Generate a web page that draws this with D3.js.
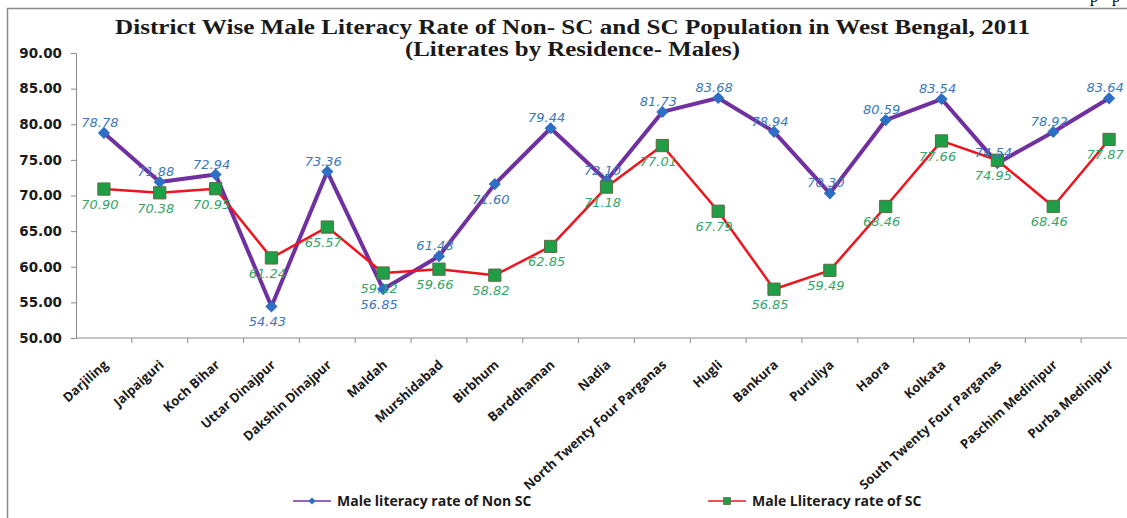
<!DOCTYPE html>
<html>
<head>
<meta charset="utf-8">
<script src="https://cdn.jsdelivr.net/npm/d3@7"></script>
<style>
  html, body { margin: 0; padding: 0; background: #fff; }
  svg { display: block; }
</style>
</head>
<body>
<svg id="chart" width="1127" height="518"></svg>
<script>
var districts = ['Darjiling', 'Jalpaiguri', 'Koch Bihar', 'Uttar Dinajpur', 'Dakshin Dinajpur',
  'Maldah', 'Murshidabad', 'Birbhum', 'Barddhaman', 'Nadia', 'North Twenty Four Parganas',
  'Hugli', 'Bankura', 'Puruliya', 'Haora', 'Kolkata', 'South Twenty Four Parganas',
  'Paschim Medinipur', 'Purba Medinipur'];

var nonScRate = [78.78, 71.88, 72.94, 54.43, 73.36, 56.85, 61.48, 71.60, 79.44, 72.10,
  81.73, 83.68, 78.94, 70.30, 80.59, 83.54, 74.54, 78.92, 83.64];

var scRate = [70.90, 70.38, 70.95, 61.24, 65.57, 59.12, 59.66, 58.82, 62.85, 71.18,
  77.01, 67.79, 56.85, 59.49, 68.46, 77.66, 74.95, 68.46, 77.87];

var yTicks = [50, 55, 60, 65, 70, 75, 80, 85, 90];

var seriesNames = ['Male literacy rate of Non SC', 'Male Lliteracy rate of SC'];

// Non SC labels that sit under their marker instead of above it
var nonScBelow = ['Uttar Dinajpur', 'Maldah', 'Birbhum'];

var svg = d3.select('#chart');
var fmt = d3.format('.2f');

var x = d3.scaleBand().domain(districts).range([76, 1137]);
var y = d3.scaleLinear().domain([50, 90]).range([338, 53]);
function cx(d) { return x(d) + x.bandwidth() / 2; }

// outer frame of the chart (runs off the right and bottom of the picture)
svg.append('rect')
  .attr('x', 7.5).attr('y', 8.5)
  .attr('width', 1200).attr('height', 560)
  .attr('fill', 'none').attr('stroke', '#8a8a8a').attr('stroke-width', 1.5);

// bits of text from the page above the chart
svg.selectAll('text.page').data([1090, 1112]).enter()
  .append('text').attr('class', 'page')
  .attr('x', function(d) { return d; }).attr('y', 2)
  .attr('font-family', 'Liberation Serif').attr('font-size', 16)
  .text('p');

// title
var title = svg.append('g')
  .attr('font-family', 'Liberation Serif, Times New Roman, serif')
  .attr('font-weight', 'bold').attr('fill', '#1a1a1a');
title.append('text')
  .attr('x', 115).attr('y', 34)
  .attr('font-size', 20)
  .attr('textLength', 915).attr('lengthAdjust', 'spacingAndGlyphs')
  .text('District Wise Male Literacy Rate of Non- SC and SC Population in West Bengal, 2011');
title.append('text')
  .attr('x', 405).attr('y', 56)
  .attr('font-size', 20)
  .attr('textLength', 335).attr('lengthAdjust', 'spacingAndGlyphs')
  .text('(Literates by Residence- Males)');

// y axis
var yAxis = d3.axisLeft(y).tickValues(yTicks).tickFormat(fmt).tickSize(5).tickPadding(9);
var gy = svg.append('g').attr('transform', 'translate(76,0)').call(yAxis);
gy.selectAll('path, line').attr('stroke', '#8c8c8c');
gy.selectAll('text')
  .attr('font-family', 'DejaVu Sans, Verdana, sans-serif')
  .attr('font-weight', 'bold').attr('font-size', 13.5).attr('fill', '#1a1a1a');

// x axis: ticks sit between the categories
var gx = svg.append('g').attr('transform', 'translate(0,338)');
gx.append('line')
  .attr('x1', 76).attr('x2', 1137)
  .attr('stroke', '#8c8c8c');
gx.selectAll('line.tick').data(districts).enter()
  .append('line').attr('class', 'tick')
  .attr('x1', function(d) { return x(d) + x.bandwidth(); })
  .attr('x2', function(d) { return x(d) + x.bandwidth(); })
  .attr('y1', 0).attr('y2', 5)
  .attr('stroke', '#8c8c8c');
gx.selectAll('text').data(districts).enter()
  .append('text')
  .attr('transform', function(d) { return 'translate(' + (cx(d) + 5) + ',28) rotate(-42)'; })
  .attr('text-anchor', 'end')
  .attr('font-family', 'Open Sans, sans-serif')
  .attr('font-weight', 'bold').attr('font-size', 13).attr('fill', '#1a1a1a')
  .text(function(d) { return d; });

// series
var nonSc = districts.map(function(d, i) { return { name: d, value: nonScRate[i] }; });
var sc = districts.map(function(d, i) { return { name: d, value: scRate[i] }; });

var line = d3.line()
  .x(function(d) { return cx(d.name); })
  .y(function(d) { return y(d.value); });

var diamond = d3.symbol().type(d3.symbolSquare).size(74);
var square = d3.symbol().type(d3.symbolSquare).size(150);

svg.append('path').datum(nonSc)
  .attr('d', line).attr('fill', 'none')
  .attr('stroke', '#7030a0').attr('stroke-width', 4).attr('stroke-linejoin', 'round');
svg.selectAll('path.nonsc').data(nonSc).enter()
  .append('path').attr('class', 'nonsc')
  .attr('d', diamond)
  .attr('transform', function(d) { return 'translate(' + cx(d.name) + ',' + y(d.value) + ') rotate(45)'; })
  .attr('fill', '#2e6fc4');

svg.append('path').datum(sc)
  .attr('d', line).attr('fill', 'none')
  .attr('stroke', '#f0141e').attr('stroke-width', 2.5).attr('stroke-linejoin', 'round');
svg.selectAll('path.sc').data(sc).enter()
  .append('path').attr('class', 'sc')
  .attr('d', square)
  .attr('transform', function(d) { return 'translate(' + cx(d.name) + ',' + y(d.value) + ')'; })
  .attr('fill', '#1f9e46').attr('stroke', '#5b6b45').attr('stroke-width', 1);

// data labels
function addLabels(data, cls, colour, below) {
  svg.selectAll('text.' + cls).data(data).enter()
    .append('text').attr('class', cls)
    .attr('x', function(d) { return cx(d.name) - 4; })
    .attr('y', function(d) { return y(d.value) + (below(d) ? 20 : -6); })
    .attr('text-anchor', 'middle')
    .attr('font-family', 'DejaVu Sans, Verdana, sans-serif')
    .attr('font-style', 'italic').attr('font-size', 13)
    .attr('fill', colour)
    .text(function(d) { return fmt(d.value); });
}
addLabels(nonSc, 'lab-nonsc', '#3a78bb', function(d) { return nonScBelow.indexOf(d.name) >= 0; });
addLabels(sc, 'lab-sc', '#35a567', function() { return true; });

// legend
var legend = svg.append('g')
  .attr('font-family', 'Open Sans, sans-serif')
  .attr('font-weight', 'bold').attr('font-size', 14).attr('fill', '#1a1a1a');
var legendItems = [
  { name: seriesNames[0], x: 293, stroke: '#7030a0', mark: 'diamond' },
  { name: seriesNames[1], x: 708, stroke: '#f0141e', mark: 'square' }
];
legendItems.forEach(function(it) {
  var g = legend.append('g').attr('transform', 'translate(' + it.x + ',501)');
  g.append('line').attr('x1', 0).attr('x2', 38).attr('stroke', it.stroke).attr('stroke-width', 1.5);
  if (it.mark === 'diamond') {
    g.append('path').attr('d', d3.symbol().type(d3.symbolSquare).size(26))
      .attr('transform', 'translate(19,0) rotate(45)').attr('fill', '#2e6fc4');
  } else {
    g.append('path').attr('d', d3.symbol().type(d3.symbolSquare).size(49))
      .attr('transform', 'translate(19,0)')
      .attr('fill', '#1f9e46').attr('stroke', '#5b6b45').attr('stroke-width', 0.8);
  }
  g.append('text').attr('x', 44).attr('y', 5).text(it.name);
});
</script>
</body>
</html>
